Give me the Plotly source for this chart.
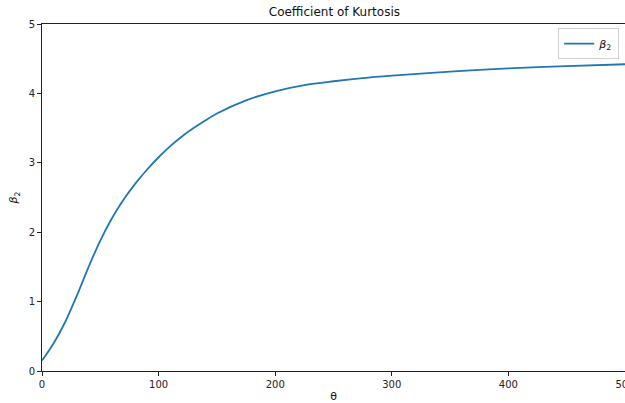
import plotly.graph_objects as go

# Kurtosis coefficient beta_2 as a function of theta
theta = [0, 10, 20, 30, 40, 50, 60, 70, 80, 90, 100, 110, 120, 130, 140, 150,
         175, 200, 225, 250, 275, 300, 350, 400, 450, 500]
beta2 = [0.15, 0.40, 0.71, 1.09, 1.50, 1.88, 2.20, 2.47, 2.70, 2.90, 3.08,
         3.24, 3.38, 3.50, 3.61, 3.71, 3.90, 4.03, 4.12, 4.175, 4.22, 4.255,
         4.315, 4.36, 4.393, 4.42]

x_ticks = [0, 100, 200, 300, 400, 500]
y_ticks = [0, 1, 2, 3, 4, 5]

font_family = "DejaVu Sans"

fig = go.Figure()
fig.add_trace(go.Scatter(
    x=theta, y=beta2, mode="lines",
    line=dict(color="#1f77b4", width=1.8, shape="spline", smoothing=0.9),
    name="<i>β</i><sub>2</sub>",
))

axis_common = dict(
    showline=True, mirror=True, linecolor="#222222", linewidth=1,
    ticks="outside", ticklen=4, tickwidth=1, tickcolor="#222222",
    showgrid=False, zeroline=False, automargin=False,
    tickfont=dict(family=font_family, size=10, color="#222222"),
)

fig.update_layout(
    width=625, height=403,
    margin=dict(l=42, r=0, t=24, b=32),
    plot_bgcolor="white", paper_bgcolor="white",
    title=dict(text="Coefficient of Kurtosis", x=0.535, xanchor="center",
               y=0.97, yanchor="middle",
               font=dict(family=font_family, size=12, color="#111111")),
    xaxis=dict(range=[0, 500], tickvals=x_ticks, ticklabeloverflow="allow",
               title=dict(text="θ", standoff=4,
                          font=dict(family=font_family, size=11, color="#111111")),
               **axis_common),
    yaxis=dict(range=[0, 5], tickvals=y_ticks,
               title=dict(text="<i>β</i><sub>2</sub>", standoff=8,
                          font=dict(family=font_family, size=11, color="#111111")),
               **axis_common),
    legend=dict(x=0.99, y=0.988, xanchor="right", yanchor="top",
                bgcolor="rgba(255,255,255,0.8)", bordercolor="#d0d0d0",
                borderwidth=1, itemwidth=30,
                font=dict(family=font_family, size=11, color="#111111")),
    showlegend=True,
)

fig.write_html("out.html")
